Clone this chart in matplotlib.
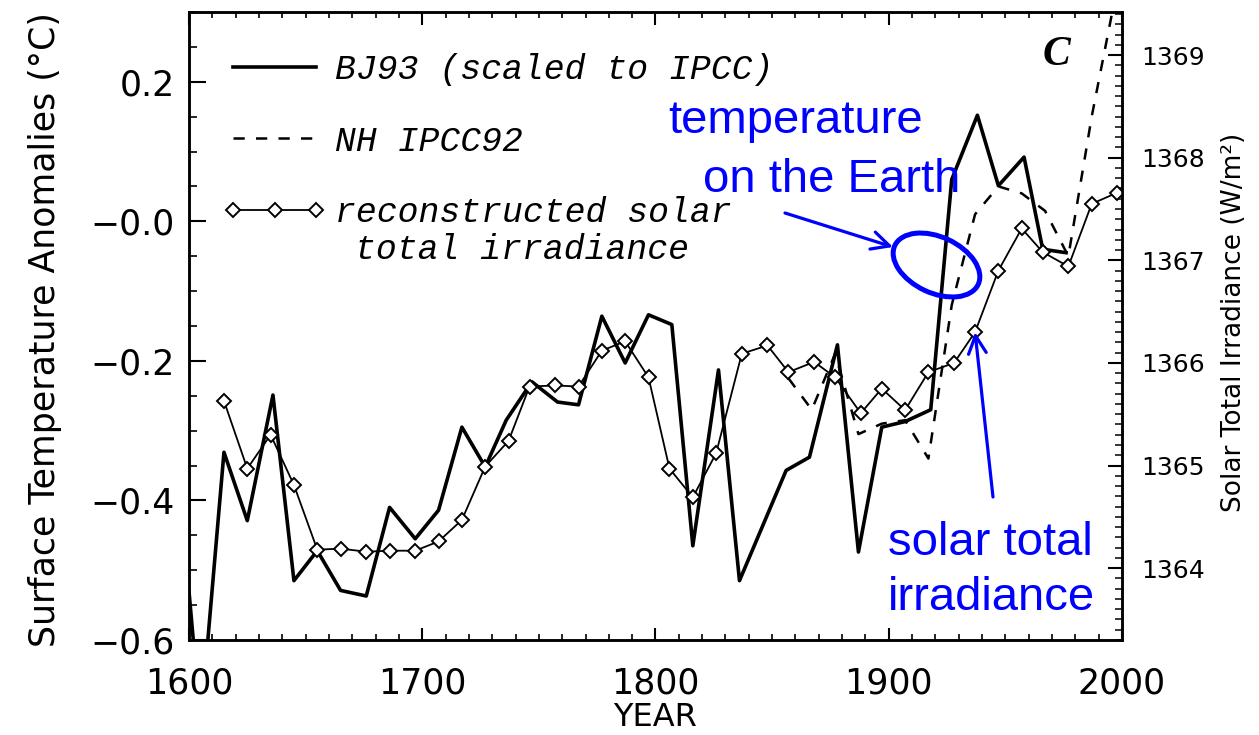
import matplotlib
matplotlib.use("Agg")
import matplotlib.pyplot as plt
from matplotlib.patches import Ellipse
from matplotlib.transforms import IdentityTransform
from matplotlib.ticker import MultipleLocator
from matplotlib.font_manager import FontProperties

# BJ93 (scaled to IPCC), surface temperature anomaly (deg C)
bj93_years = [1600, 1605, 1615, 1625, 1636, 1645, 1655, 1665, 1676, 1686,
              1697, 1707, 1717, 1727, 1736, 1747, 1758, 1767, 1777, 1787,
              1797, 1807, 1816, 1827, 1836, 1856, 1866, 1878, 1887, 1897,
              1907, 1918, 1927, 1938, 1947, 1958, 1966, 1976]
bj93_temp = [-0.53, -0.72, -0.331, -0.429, -0.249, -0.515, -0.472, -0.529, -0.537, -0.410,
             -0.455, -0.414, -0.295, -0.352, -0.285, -0.230, -0.259, -0.263, -0.136, -0.203,
             -0.134, -0.148, -0.465, -0.213, -0.515, -0.357, -0.338, -0.177, -0.474, -0.295,
             -0.287, -0.270, 0.060, 0.152, 0.051, 0.092, -0.040, -0.045]

# NH IPCC92
ipcc_years = [1857, 1867, 1877, 1887, 1897, 1907, 1917, 1927, 1937, 1947,
              1957, 1967, 1977, 1987, 1997]
ipcc_temp = [-0.225, -0.27, -0.19, -0.305, -0.29, -0.285, -0.34, -0.12, 0.01, 0.05,
             0.04, 0.015, -0.05, 0.15, 0.32]

# reconstructed solar total irradiance (W/m2)
solar_years = [1615, 1625, 1635, 1645, 1655, 1665, 1676, 1686, 1697, 1707,
               1717, 1727, 1737, 1746, 1757, 1767, 1777, 1787, 1797, 1806,
               1816, 1826, 1837, 1848, 1857, 1868, 1877, 1888, 1897, 1907,
               1917, 1928, 1937, 1947, 1957, 1966, 1977, 1987, 1998]
solar_irr = [1365.63, 1364.97, 1365.30, 1364.81, 1364.18, 1364.19, 1364.16, 1364.17, 1364.17, 1364.26,
             1364.47, 1364.99, 1365.24, 1365.77, 1365.78, 1365.77, 1366.12, 1366.21, 1365.86, 1364.97,
             1364.69, 1365.12, 1366.09, 1366.17, 1365.91, 1366.01, 1365.86, 1365.51, 1365.75, 1365.54,
             1365.91, 1366.00, 1366.30, 1366.90, 1367.31, 1367.08, 1366.94, 1367.55, 1367.66]

x_ticks = [1600, 1700, 1800, 1900, 2000]
y_ticks = [-0.6, -0.4, -0.2, 0.0, 0.2]
y_tick_labels = ['\u22120.6', '\u22120.4', '\u22120.2', '\u22120.0', '0.2']
irr_ticks = [1364, 1365, 1366, 1367, 1368, 1369]

blue = '#0000ff'

fig = plt.figure(figsize=(12.59, 7.35), dpi=100)
ax = fig.add_axes([0.1501, 0.1293, 0.7411, 0.8544])
ax2 = ax.twinx()

l1, = ax.plot(bj93_years, bj93_temp, color='black', lw=2.6,
              label='BJ93 (scaled to IPCC)')
l2, = ax.plot(ipcc_years, ipcc_temp, color='black', lw=1.8,
              linestyle=(0, (4.5, 4.5)), label='NH IPCC92')
l3, = ax2.plot(solar_years, solar_irr, color='black', lw=1.3, marker='D', ms=7,
               mfc='white', mec='black', mew=1.4, label='reconstructed solar')

ax.set_xlim(1600, 2000)
ax.set_ylim(-0.6, 0.3)
ax2.set_ylim(1363.3, 1369.42)

ax.set_xticks(x_ticks)
ax.xaxis.set_minor_locator(MultipleLocator(10))
ax.set_yticks(y_ticks)
ax.set_yticklabels(y_tick_labels)
ax.yaxis.set_minor_locator(MultipleLocator(0.05))
ax.tick_params(which='both', direction='in', top=True, right=False, color='black')
ax.tick_params(axis='x', which='major', length=9, width=1.5, labelsize=25, pad=19)
ax.tick_params(axis='x', which='minor', length=4, width=1.2)
ax.tick_params(axis='y', which='major', length=12, width=1.5, labelsize=25, pad=10)
ax.tick_params(axis='y', which='minor', length=6, width=1.2)

ax2.set_yticks(irr_ticks)
ax2.yaxis.set_minor_locator(MultipleLocator(0.1))
ax2.tick_params(axis='y', which='major', direction='in', length=10, width=1.5,
                labelsize=18, pad=14)
ax2.tick_params(axis='y', which='minor', direction='in', length=5, width=1.1)

for a in (ax, ax2):
    for s in a.spines.values():
        s.set_linewidth(1.8)

leg_font = FontProperties(family='Liberation Mono', style='italic', size=25)
ax.legend(handles=[l1, l2, l3], loc='upper left', bbox_to_anchor=(0.036, 0.934),
          borderaxespad=0, borderpad=0, frameon=False, prop=leg_font,
          handlelength=3.0, handletextpad=0.25, labelspacing=1.1, numpoints=3)
ax.text(0.178, 0.621, 'total irradiance', transform=ax.transAxes,
        fontproperties=leg_font, va='center', ha='left')

ax.text(0.930, 0.932, 'C', transform=ax.transAxes, ha='center', va='center',
        family='Liberation Serif', weight='bold', style='italic', fontsize=30)

fig.text(45 / 1259, 1 - 330 / 735, 'Surface Temperature Anomalies (°C)',
         rotation=90, ha='center', va='center', fontsize=25)
fig.text(1234 / 1259, 1 - 322 / 735, 'Solar Total Irradiance (W/m²)',
         rotation=90, ha='center', va='center', fontsize=19)
fig.text(655 / 1259, 1 - 733 / 735, 'YEAR', ha='center', va='bottom', fontsize=23)

# blue annotations
ann_font = dict(family='Liberation Sans', fontsize=34, color=blue, va='baseline', ha='left')
fig.text(668 / 1259, 1 - 133 / 735, 'temperature', **ann_font)
fig.text(703 / 1259, 1 - 192 / 735, 'on the Earth', **ann_font)
fig.text(888 / 1259, 1 - 555 / 735, 'solar total', **ann_font)
fig.text(888 / 1259, 1 - 610 / 735, 'irradiance', **ann_font)

fig.add_artist(Ellipse((936.5, 470), 92, 56, angle=-25, transform=IdentityTransform(),
                       fill=False, ec=blue, lw=3.6))

ax.annotate('', xy=(893, 488), xycoords='figure pixels',
            xytext=(785, 522), textcoords='figure pixels',
            arrowprops=dict(arrowstyle='->', color=blue, lw=2.3,
                            shrinkA=0, shrinkB=0, mutation_scale=32))
ax2.annotate('', xy=(1937, 1366.30), xycoords='data',
             xytext=(993, 238), textcoords='figure pixels',
             arrowprops=dict(arrowstyle='->', color=blue, lw=2.3,
                             shrinkA=0, shrinkB=0, mutation_scale=32))

fig.savefig('out.png', dpi=100)
